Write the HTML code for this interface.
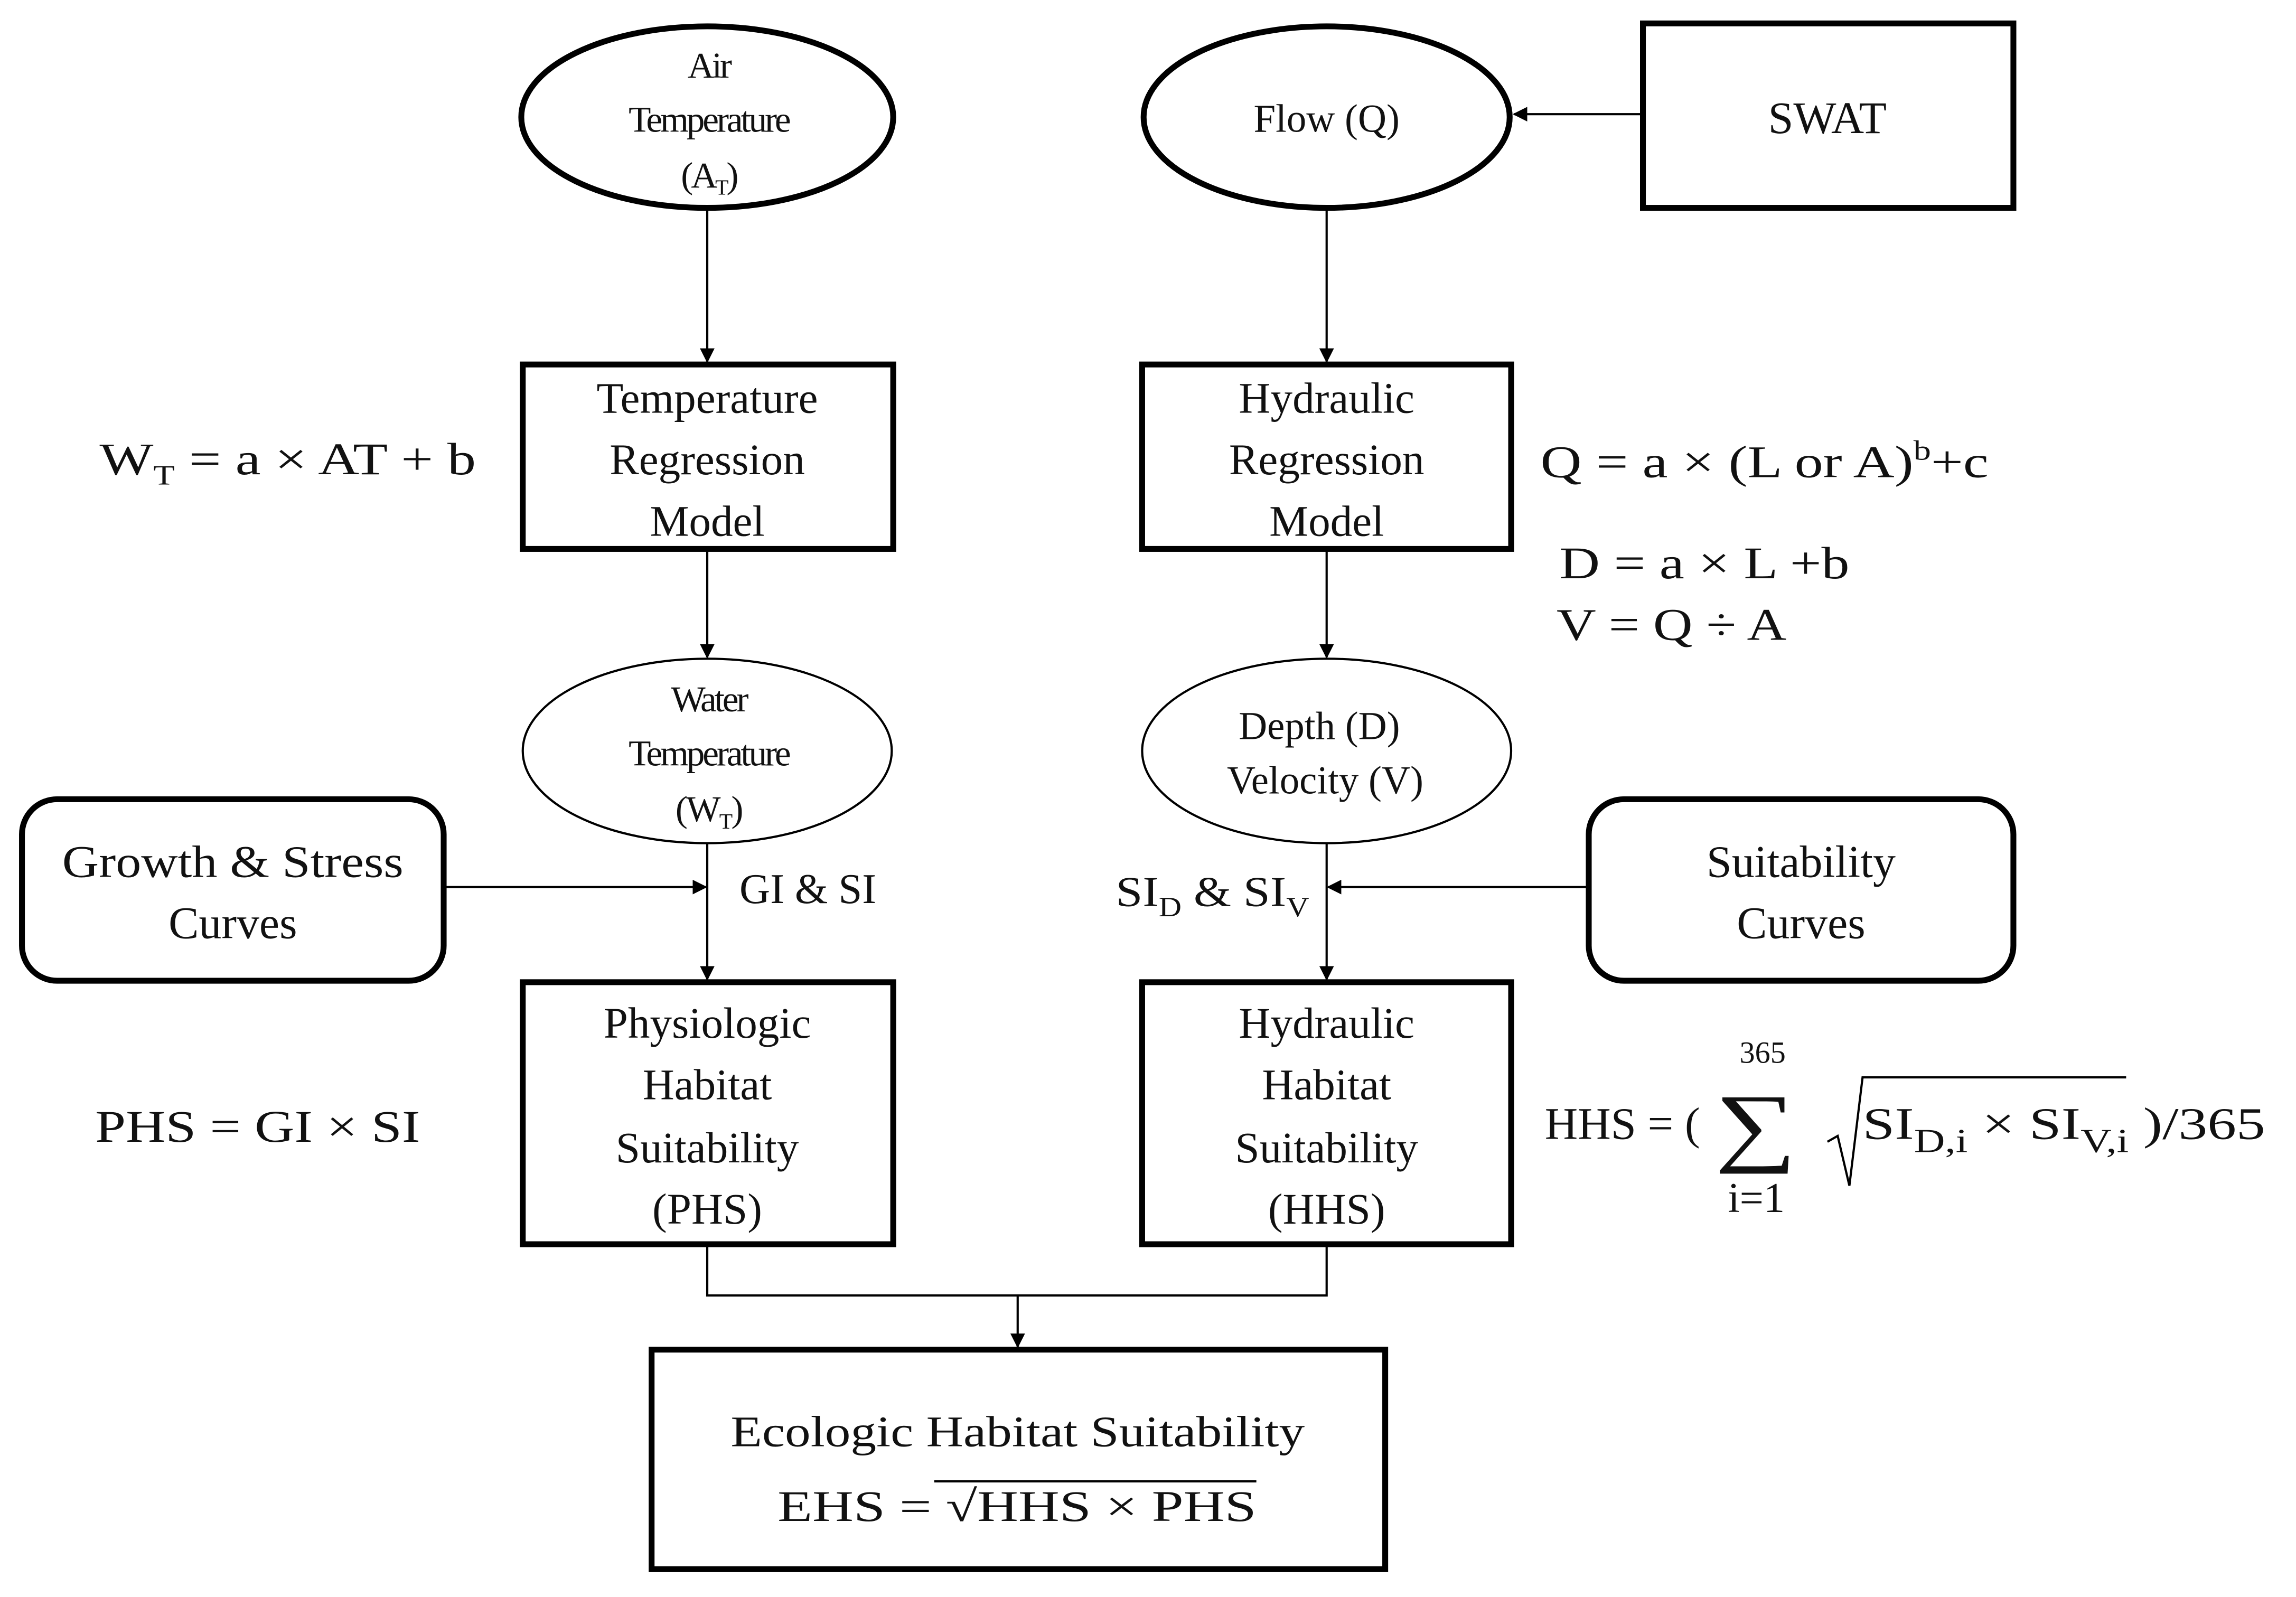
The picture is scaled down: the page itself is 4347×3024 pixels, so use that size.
<!DOCTYPE html>
<html><head><meta charset="utf-8"><style>
html,body{margin:0;padding:0;background:#fff}
svg{display:block}
text{font-family:"Liberation Serif",serif;fill:#111}
</style></head><body>
<svg width="4347" height="3024" viewBox="0 0 1568 1091" preserveAspectRatio="none" xmlns="http://www.w3.org/2000/svg">
<defs><marker id="a" markerWidth="10" markerHeight="10" refX="9" refY="5" orient="auto" markerUnits="userSpaceOnUse"><path d="M0,0 L10,5 L0,10 z" fill="#000"/></marker></defs>
<g fill="none" stroke="#000">
<ellipse cx="483" cy="80" rx="127" ry="62" stroke-width="4"/>
<ellipse cx="906" cy="80" rx="125" ry="62" stroke-width="4"/>
<rect x="1122" y="16" width="253" height="126" stroke-width="4"/>
<rect x="357" y="249" width="253" height="126" stroke-width="4"/>
<rect x="780" y="249" width="252" height="126" stroke-width="4"/>
<ellipse cx="483" cy="513" rx="126" ry="63" stroke-width="1.5"/>
<ellipse cx="906" cy="513" rx="126" ry="63" stroke-width="1.5"/>
<rect x="15" y="546" width="288" height="124" rx="24" stroke-width="4"/>
<rect x="1085" y="546" width="290" height="124" rx="24" stroke-width="4"/>
<rect x="357" y="671" width="253" height="179" stroke-width="4"/>
<rect x="780" y="671" width="252" height="179" stroke-width="4"/>
<rect x="445" y="922" width="501" height="150" stroke-width="4"/>
<g stroke-width="1.5">
<line x1="1122" y1="78" x2="1034" y2="78" marker-end="url(#a)"/>
<line x1="483" y1="142" x2="483" y2="247" marker-end="url(#a)"/>
<line x1="906" y1="142" x2="906" y2="247" marker-end="url(#a)"/>
<line x1="483" y1="375" x2="483" y2="449" marker-end="url(#a)"/>
<line x1="906" y1="375" x2="906" y2="449" marker-end="url(#a)"/>
<line x1="303" y1="606" x2="482" y2="606" marker-end="url(#a)"/>
<line x1="1085" y1="606" x2="907" y2="606" marker-end="url(#a)"/>
<line x1="483" y1="576" x2="483" y2="669" marker-end="url(#a)"/>
<line x1="906" y1="576" x2="906" y2="669" marker-end="url(#a)"/>
<polyline points="483,850 483,885 906,885 906,850"/>
<line x1="695" y1="885" x2="695" y2="920" marker-end="url(#a)"/>
</g>
</g>
<g text-anchor="middle">
<text x="484" y="53" font-size="25" letter-spacing="-1.5">Air</text>
<text x="484" y="90" font-size="25" letter-spacing="-1.5">Temperature</text>
<text x="484" y="128" font-size="25" letter-spacing="-1.5">(A<tspan font-size="15" dy="5">T</tspan><tspan dy="-5">)</tspan></text>
<text x="906" y="90" font-size="27">Flow (Q)</text>
<text x="1248" y="91" font-size="31">SWAT</text>
<text x="483" y="282" font-size="30">Temperature</text>
<text x="483" y="324" font-size="30">Regression</text>
<text x="483" y="366" font-size="30">Model</text>
<text x="906" y="282" font-size="30">Hydraulic</text>
<text x="906" y="324" font-size="30">Regression</text>
<text x="906" y="366" font-size="30">Model</text>
<text x="484" y="486" font-size="25" letter-spacing="-1.5">Water</text>
<text x="484" y="523" font-size="25" letter-spacing="-1.5">Temperature</text>
<text x="484" y="561" font-size="25" letter-spacing="-1">(W<tspan font-size="15" dy="5">T</tspan><tspan dy="-5">)</tspan></text>
<text x="901" y="505" font-size="27">Depth (D)</text>
<text x="905" y="542" font-size="27">Velocity (V)</text>
<text x="159" y="599" font-size="31" textLength="233" lengthAdjust="spacingAndGlyphs">Growth &amp; Stress</text>
<text x="159" y="641" font-size="31">Curves</text>
<text x="1230" y="599" font-size="31">Suitability</text>
<text x="1230" y="641" font-size="31">Curves</text>
<text x="483" y="709" font-size="30">Physiologic</text>
<text x="483" y="751" font-size="30">Habitat</text>
<text x="483" y="794" font-size="30">Suitability</text>
<text x="483" y="836" font-size="30">(PHS)</text>
<text x="906" y="709" font-size="30">Hydraulic</text>
<text x="906" y="751" font-size="30">Habitat</text>
<text x="906" y="794" font-size="30">Suitability</text>
<text x="906" y="836" font-size="30">(HHS)</text>
<text x="695" y="988" font-size="30" textLength="392" lengthAdjust="spacingAndGlyphs">Ecologic  Habitat Suitability</text>
</g>
<text x="531" y="1039" font-size="30" textLength="327" lengthAdjust="spacingAndGlyphs">EHS = √HHS × PHS</text>
<line x1="638" y1="1012" x2="858" y2="1012" stroke="#000" stroke-width="1.5"/>
<text x="68" y="324" font-size="31" textLength="257" lengthAdjust="spacingAndGlyphs">W<tspan font-size="19" dy="7">T</tspan><tspan dy="-7"> = a × AT + b</tspan></text>
<text x="1052" y="326" font-size="31" textLength="306" lengthAdjust="spacingAndGlyphs">Q = a × (L or A)<tspan font-size="19" dy="-12">b</tspan><tspan dy="12">+c</tspan></text>
<text x="1065" y="395" font-size="31" textLength="198" lengthAdjust="spacingAndGlyphs">D = a × L +b</text>
<text x="1063" y="437" font-size="31" textLength="157" lengthAdjust="spacingAndGlyphs">V = Q ÷ A</text>
<text x="505" y="617" font-size="29">GI &amp; SI</text>
<text x="762" y="619" font-size="29" textLength="132" lengthAdjust="spacingAndGlyphs">SI<tspan font-size="19" dy="7">D</tspan><tspan dy="-7"> &amp; SI</tspan><tspan font-size="19" dy="7">V</tspan></text>
<text x="65" y="780" font-size="31" textLength="222" lengthAdjust="spacingAndGlyphs">PHS = GI × SI</text>
<text x="1055" y="778" font-size="31" textLength="106" lengthAdjust="spacingAndGlyphs">HHS = (</text>
<text x="1171" y="789" font-size="60" textLength="56" lengthAdjust="spacingAndGlyphs">∑</text>
<text x="1188" y="726" font-size="21">365</text>
<text x="1180" y="828" font-size="29">i=1</text>
<polyline points="1248,780 1255,776 1263,810 1272,736 1452,736" fill="none" stroke="#000" stroke-width="1.5"/>
<text x="1272" y="778" font-size="31" textLength="275" lengthAdjust="spacingAndGlyphs">SI<tspan font-size="23" dy="9">D,i</tspan><tspan dy="-9"> × SI</tspan><tspan font-size="23" dy="9">V,i</tspan><tspan dy="-9"> )/365</tspan></text>
</svg>
</body></html>
